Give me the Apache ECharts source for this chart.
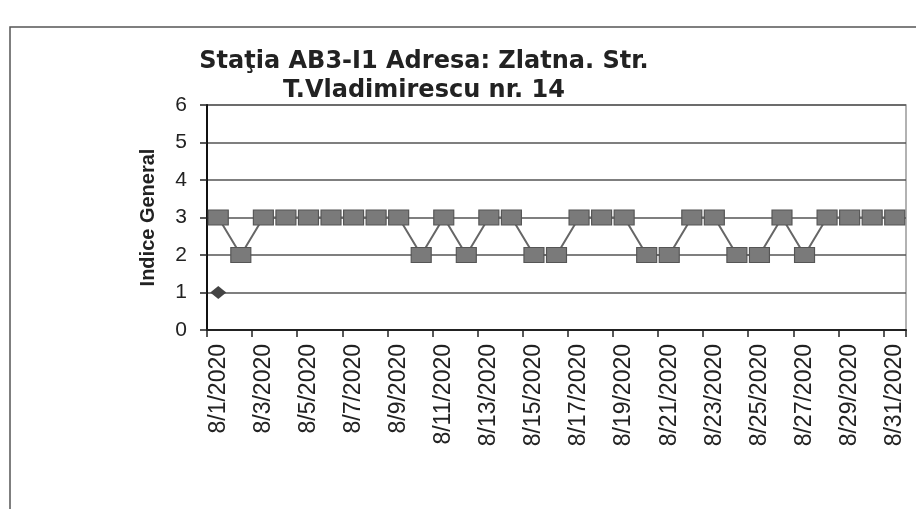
<!DOCTYPE html>
<html>
<head>
<meta charset="utf-8">
<script src="https://cdn.jsdelivr.net/npm/echarts@6/dist/echarts.min.js"></script>
<style>
html,body{margin:0;padding:0;background:#fff;}
#chart{width:916px;height:509px;}
</style>
</head>
<body>
<div id="chart"></div>
<script>
// zile din august 2020
var days = [];
for (var d = 1; d <= 31; d++) {
	days.push("8/" + d + "/2020");
}
// indice general
var indice = [3,2,3,3,3,3,3,3,3,2,3,2,3,3,2,2,3,3,3,2,2,3,3,2,2,3,2,3,3,3,3];
// seria cu un singur punct (romb) la 8/1
var prima = [1];
var yTicks = [0,1,2,3,4,5,6];

var myChart = echarts.init(document.getElementById('chart'));
var option = {
	backgroundColor: '#fff',
	animation: false,
	title: {
		text: 'Staţia AB3-I1 Adresa: Zlatna. Str.\nT.Vladimirescu nr. 14',
		left: 419,
		top: 42,
		textAlign: 'center',
		textStyle: {
			fontFamily: 'DejaVu Sans',
			fontWeight: 'bold',
			fontSize: 24,
			lineHeight: 29,
			color: '#222'
		}
	},
	graphic: [{
		type: 'rect',
		shape: {x: 10, y: 27, width: 1000, height: 600},
		style: {fill: 'none', stroke: '#555', lineWidth: 1.5},
		silent: true
	}],
	grid: {
		left: 207,
		right: 10,
		top: 105,
		bottom: 179,
		show: true,
		borderColor: '#999',
		borderWidth: 1.5
	},
	xAxis: {
		type: 'category',
		data: days,
		boundaryGap: true,
		axisLine: {lineStyle: {color: '#222', width: 2}},
		axisTick: {show: true, interval: 1, length: 7, lineStyle: {color: '#222', width: 1.5}},
		axisLabel: {
			interval: 1,
			rotate: 90,
			fontFamily: 'Liberation Sans',
			fontSize: 23,
			color: '#222',
			margin: 14
		}
	},
	yAxis: {
		type: 'value',
		min: yTicks[0],
		max: yTicks[yTicks.length - 1],
		interval: 1,
		name: 'Indice General',
		nameLocation: 'middle',
		nameGap: 49,
		nameTextStyle: {
			fontFamily: 'Liberation Sans',
			fontWeight: 'bold',
			fontSize: 20,
			color: '#222'
		},
		axisLine: {show: true, lineStyle: {color: '#111', width: 2}},
		axisTick: {show: true, length: 7, lineStyle: {color: '#222', width: 1.5}},
		axisLabel: {
			fontFamily: 'Liberation Sans',
			fontSize: 21,
			color: '#222',
			margin: 20
		},
		splitLine: {lineStyle: {color: '#555', width: 1.5}}
	},
	series: [
		{
			name: 'prima',
			type: 'line',
			data: prima,
			symbol: 'diamond',
			symbolSize: [16, 13],
			itemStyle: {color: '#444'},
			lineStyle: {color: '#444'},
			z: 3
		},
		{
			name: 'indice',
			type: 'line',
			data: indice,
			symbol: 'rect',
			symbolSize: [20, 15],
			itemStyle: {color: '#7a7a7a', borderColor: '#555', borderWidth: 1},
			lineStyle: {color: '#666', width: 2},
			z: 4
		}
	]
};
myChart.setOption(option);
</script>
</body>
</html>
